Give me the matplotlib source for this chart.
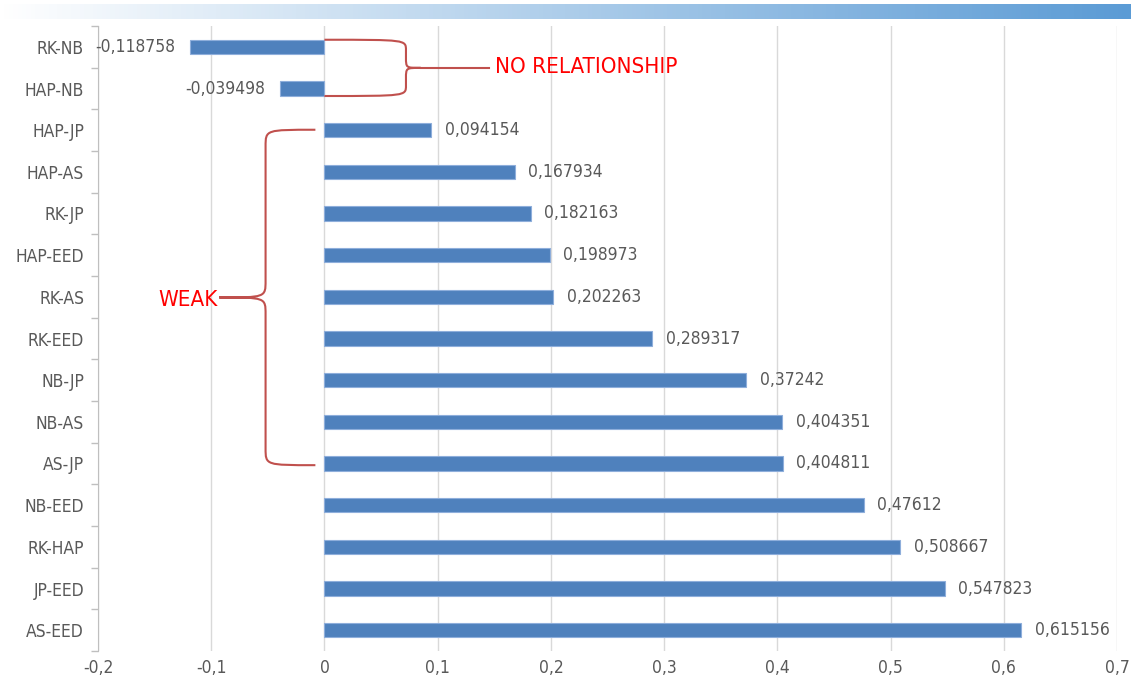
import numpy as np
import matplotlib.pyplot as plt
from matplotlib import font_manager
from matplotlib.path import Path
from matplotlib.patches import PathPatch
from matplotlib.colors import LinearSegmentedColormap

# data
pairs = ["RK-NB", "HAP-NB", "HAP-JP", "HAP-AS", "RK-JP", "HAP-EED", "RK-AS", "RK-EED",
         "NB-JP", "NB-AS", "AS-JP", "NB-EED", "RK-HAP", "JP-EED", "AS-EED"]
corr = [-0.118758, -0.039498, 0.094154, 0.167934, 0.182163, 0.198973, 0.202263, 0.289317,
        0.37242, 0.404351, 0.404811, 0.47612, 0.508667, 0.547823, 0.615156]
corr_labels = ["-0,118758", "-0,039498", "0,094154", "0,167934", "0,182163", "0,198973",
               "0,202263", "0,289317", "0,37242", "0,404351", "0,404811", "0,47612",
               "0,508667", "0,547823", "0,615156"]
xticks = [-0.2, -0.1, 0, 0.1, 0.2, 0.3, 0.4, 0.5, 0.6, 0.7]
xtick_labels = ["-0,2", "-0,1", "0", "0,1", "0,2", "0,3", "0,4", "0,5", "0,6", "0,7"]

# pick a narrow face if one is installed
cond = font_manager.findfont(font_manager.FontProperties(family="DejaVu Sans", stretch="condensed"))
if "Condensed" in cond:
    fp = dict(family="DejaVu Sans", fontstretch="condensed", fontsize=12.5)
    fp_red = dict(family="DejaVu Sans", fontstretch="condensed", fontsize=16)
else:
    fp = dict(family="Liberation Sans", fontsize=11.5)
    fp_red = dict(family="Liberation Sans", fontsize=14.5)
grey = "#595959"
brace_col = "#c0504d"

fig = plt.figure(figsize=(11.31, 6.88), dpi=100)

# gradient band at the top
gax = fig.add_axes([0, 1 - 19 / 688, 1, 15 / 688])
cmap = LinearSegmentedColormap.from_list("band", ["#ffffff", "#5b9bd5"])
gax.imshow(np.linspace(0, 1, 256).reshape(1, -1), aspect="auto", cmap=cmap)
gax.axis("off")

ax = fig.add_axes([98 / 1131, 1 - 651 / 688, (1117 - 98) / 1131, (651 - 26) / 688])
y = np.arange(len(pairs))
ax.barh(y, corr, height=0.34, color="#4f81bd", edgecolor="#8eaedb", linewidth=0.8, zorder=3)

for yi, v, lab in zip(y, corr, corr_labels):
    if v < 0:
        ax.text(v - 0.013, yi, lab, ha="right", va="center", color=grey, **fp)
    else:
        ax.text(v + 0.012, yi, lab, ha="left", va="center", color=grey, **fp)

ax.set_xlim(-0.2, 0.7)
ax.set_ylim(len(pairs) - 0.5, -0.5)
ax.set_xticks(xticks)
ax.set_xticklabels(xtick_labels, color=grey, **fp)
ax.set_yticks(y)
ax.set_yticklabels(pairs, color=grey, **fp)
ax.set_yticks(np.arange(-0.5, len(pairs), 1), minor=True)
ax.tick_params(axis="y", which="major", length=0, pad=10)
ax.tick_params(axis="y", which="minor", length=5, color="#bfbfbf", width=1)
ax.tick_params(axis="x", length=0, pad=6)
ax.grid(axis="x", color="#d9d9d9", linewidth=1, zorder=0)
for s in ["top", "right", "bottom"]:
    ax.spines[s].set_visible(False)
ax.spines["left"].set_color("#bfbfbf")


def brace(x0, xv, xt, ya, yb, r):
    ym = (ya + yb) / 2
    verts = [(x0, ya), (xv, ya), (xv, ya), (xv, ya + r),
             (xv, ym - r),
             (xv, ym), (xv, ym), (xt, ym),
             (xv, ym), (xv, ym), (xv, ym + r),
             (xv, yb - r),
             (xv, yb), (xv, yb), (x0, yb)]
    codes = [Path.MOVETO, Path.CURVE4, Path.CURVE4, Path.CURVE4,
             Path.LINETO,
             Path.CURVE4, Path.CURVE4, Path.CURVE4,
             Path.CURVE4, Path.CURVE4, Path.CURVE4,
             Path.LINETO,
             Path.CURVE4, Path.CURVE4, Path.CURVE4]
    ax.add_patch(PathPatch(Path(verts, codes), fill=False, edgecolor=brace_col,
                           linewidth=1.5, zorder=4, clip_on=False))
    return ym


# NO RELATIONSHIP brace
ym = brace(0.0, 0.072, 0.085, -0.17, 1.18, 0.25)
ax.plot([0.085, 0.145], [ym, ym], color=brace_col, linewidth=1.5, zorder=4)
ax.text(0.151, ym - 0.02, "NO RELATIONSHIP", color="#ff0000",
        ha="left", va="center", **fp_red)

# WEAK brace
ym = brace(-0.008, -0.052, -0.093, 1.99, 10.04, 0.4)
ax.text(-0.094, ym + 0.05, "WEAK", color="#ff0000",
        ha="right", va="center", **fp_red)

fig.savefig("out.png", dpi=100)
